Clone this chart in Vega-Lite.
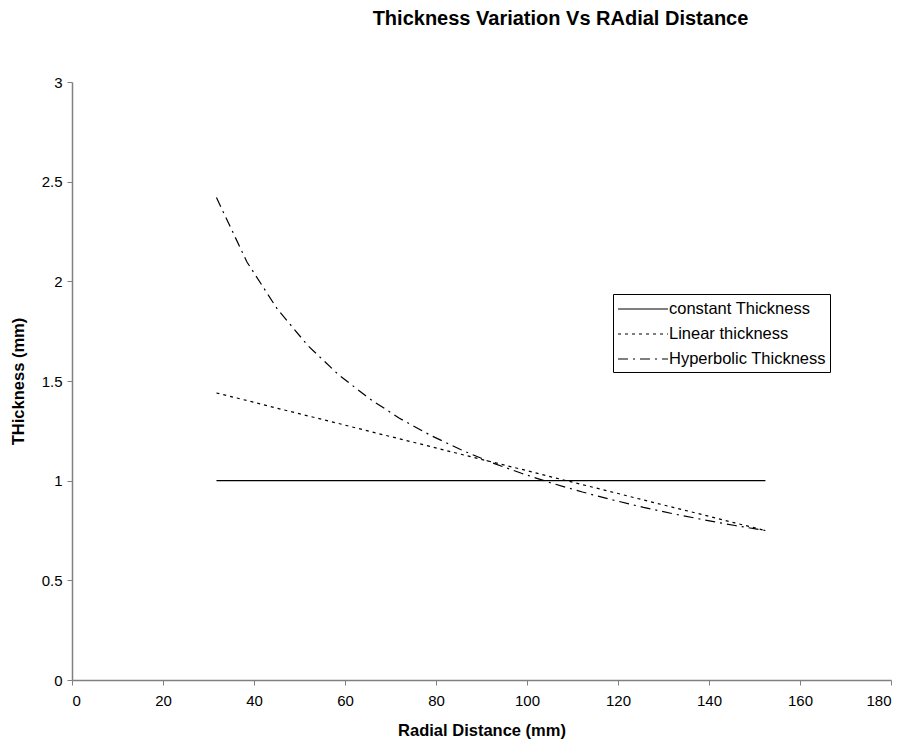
{
  "$schema": "https://vega.github.io/schema/vega-lite/v6.json",
  "autosize": "none",
  "width": 819,
  "height": 598,
  "padding": {"left": 72, "top": 82, "right": 16, "bottom": 62},
  "background": "white",
  "title": {
    "text": "Thickness Variation Vs RAdial Distance",
    "font": "Liberation Sans",
    "fontSize": 20,
    "fontWeight": "bold",
    "color": "black",
    "anchor": "middle",
    "frame": "group",
    "dx": 79,
    "offset": 46
  },
  "config": {
    "view": {"stroke": null},
    "font": "Liberation Sans"
  },
  "data": {
    "values": [
      {"r": 31.75, "t": 1, "series": "constant Thickness"},
      {"r": 38.45, "t": 1, "series": "constant Thickness"},
      {"r": 45.16, "t": 1, "series": "constant Thickness"},
      {"r": 51.86, "t": 1, "series": "constant Thickness"},
      {"r": 58.56, "t": 1, "series": "constant Thickness"},
      {"r": 65.27, "t": 1, "series": "constant Thickness"},
      {"r": 71.97, "t": 1, "series": "constant Thickness"},
      {"r": 78.67, "t": 1, "series": "constant Thickness"},
      {"r": 85.38, "t": 1, "series": "constant Thickness"},
      {"r": 92.08, "t": 1, "series": "constant Thickness"},
      {"r": 98.78, "t": 1, "series": "constant Thickness"},
      {"r": 105.49, "t": 1, "series": "constant Thickness"},
      {"r": 112.19, "t": 1, "series": "constant Thickness"},
      {"r": 118.89, "t": 1, "series": "constant Thickness"},
      {"r": 125.6, "t": 1, "series": "constant Thickness"},
      {"r": 132.3, "t": 1, "series": "constant Thickness"},
      {"r": 139.0, "t": 1, "series": "constant Thickness"},
      {"r": 145.7, "t": 1, "series": "constant Thickness"},
      {"r": 152.4, "t": 1, "series": "constant Thickness"},
      {"r": 31.75, "t": 1.44, "series": "Linear thickness"},
      {"r": 38.45, "t": 1.402, "series": "Linear thickness"},
      {"r": 45.16, "t": 1.363, "series": "Linear thickness"},
      {"r": 51.86, "t": 1.325, "series": "Linear thickness"},
      {"r": 58.56, "t": 1.287, "series": "Linear thickness"},
      {"r": 65.27, "t": 1.248, "series": "Linear thickness"},
      {"r": 71.97, "t": 1.21, "series": "Linear thickness"},
      {"r": 78.67, "t": 1.172, "series": "Linear thickness"},
      {"r": 85.38, "t": 1.133, "series": "Linear thickness"},
      {"r": 92.08, "t": 1.095, "series": "Linear thickness"},
      {"r": 98.78, "t": 1.057, "series": "Linear thickness"},
      {"r": 105.49, "t": 1.018, "series": "Linear thickness"},
      {"r": 112.19, "t": 0.98, "series": "Linear thickness"},
      {"r": 118.89, "t": 0.942, "series": "Linear thickness"},
      {"r": 125.6, "t": 0.903, "series": "Linear thickness"},
      {"r": 132.3, "t": 0.865, "series": "Linear thickness"},
      {"r": 139.0, "t": 0.827, "series": "Linear thickness"},
      {"r": 145.7, "t": 0.788, "series": "Linear thickness"},
      {"r": 152.4, "t": 0.75, "series": "Linear thickness"},
      {"r": 31.75, "t": 2.42, "series": "Hyperbolic Thickness"},
      {"r": 38.45, "t": 2.097, "series": "Hyperbolic Thickness"},
      {"r": 45.16, "t": 1.86, "series": "Hyperbolic Thickness"},
      {"r": 51.86, "t": 1.677, "series": "Hyperbolic Thickness"},
      {"r": 58.56, "t": 1.532, "series": "Hyperbolic Thickness"},
      {"r": 65.27, "t": 1.413, "series": "Hyperbolic Thickness"},
      {"r": 71.97, "t": 1.313, "series": "Hyperbolic Thickness"},
      {"r": 78.67, "t": 1.229, "series": "Hyperbolic Thickness"},
      {"r": 85.38, "t": 1.156, "series": "Hyperbolic Thickness"},
      {"r": 92.08, "t": 1.092, "series": "Hyperbolic Thickness"},
      {"r": 98.78, "t": 1.037, "series": "Hyperbolic Thickness"},
      {"r": 105.49, "t": 0.987, "series": "Hyperbolic Thickness"},
      {"r": 112.19, "t": 0.943, "series": "Hyperbolic Thickness"},
      {"r": 118.89, "t": 0.903, "series": "Hyperbolic Thickness"},
      {"r": 125.6, "t": 0.866, "series": "Hyperbolic Thickness"},
      {"r": 132.3, "t": 0.833, "series": "Hyperbolic Thickness"},
      {"r": 139.0, "t": 0.803, "series": "Hyperbolic Thickness"},
      {"r": 145.7, "t": 0.775, "series": "Hyperbolic Thickness"},
      {"r": 152.4, "t": 0.75, "series": "Hyperbolic Thickness"}
    ]
  },
  "mark": {"type": "line", "color": "black", "strokeWidth": 1.2},
  "encoding": {
    "x": {
      "field": "r",
      "type": "quantitative",
      "scale": {"domain": [0, 180], "nice": false},
      "axis": {
        "title": "Radial Distance (mm)",
        "values": [0, 20, 40, 60, 80, 100, 120, 140, 160, 180],
        "grid": false,
        "domainColor": "#808080",
        "domainWidth": 1.5,
        "tickColor": "#808080",
        "tickSize": 5,
        "tickWidth": 1,
        "labelFontSize": 15,
        "labelColor": "black",
        "labelPadding": 8,
        "titleFontSize": 16.5,
        "titleFontWeight": "bold",
        "titleColor": "black",
        "titlePadding": 14
      }
    },
    "y": {
      "field": "t",
      "type": "quantitative",
      "scale": {"domain": [0, 3], "nice": false},
      "axis": {
        "title": "THickness (mm)",
        "values": [0, 0.5, 1, 1.5, 2, 2.5, 3],
        "format": "~g",
        "grid": false,
        "domainColor": "#808080",
        "domainWidth": 1.5,
        "tickColor": "#808080",
        "tickSize": 5,
        "tickWidth": 1,
        "labelFontSize": 15,
        "labelColor": "black",
        "labelPadding": 5,
        "titleFontSize": 16.5,
        "titleFontWeight": "bold",
        "titleColor": "black",
        "titlePadding": 15
      }
    },
    "strokeDash": {
      "field": "series",
      "type": "nominal",
      "scale": {
        "domain": ["constant Thickness", "Linear thickness", "Hyperbolic Thickness"],
        "range": [[1, 0], [3, 4], [10, 5, 2, 5]]
      },
      "legend": {
        "title": null,
        "orient": "none",
        "legendX": 541,
        "legendY": 212,
        "fillColor": "white",
        "strokeColor": "black",
        "padding": 4,
        "symbolType": "M-2.5,0H2.5",
        "symbolSize": 400,
        "symbolOffset": 15,
        "symbolStrokeWidth": 1.2,
        "symbolStrokeColor": "black",
        "labelFontSize": 16.5,
        "labelColor": "black",
        "labelOffset": 15,
        "rowPadding": 5,
        "labelLimit": 300
      }
    }
  }
}
